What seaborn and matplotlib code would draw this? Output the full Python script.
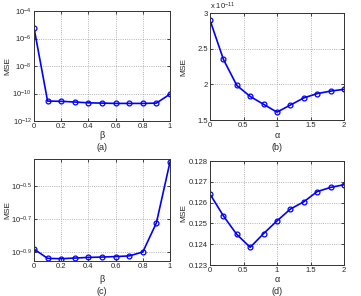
import numpy as np
import pandas as pd
import matplotlib
matplotlib.use('Agg')
import matplotlib.pyplot as plt
import seaborn as sns
from matplotlib.ticker import FixedLocator, NullLocator, FixedFormatter

sns.set_style('white')
plt.rcParams['font.family'] = ['Liberation Sans', 'DejaVu Sans']
plt.rcParams['mathtext.default'] = 'regular'

# panel (a): MSE vs beta (log)
beta = [0, 0.1, 0.2, 0.3, 0.4, 0.5, 0.6, 0.7, 0.8, 0.9, 1.0]
mse_a = [6e-6, 2.8e-11, 2.7e-11, 2.4e-11, 2.1e-11, 2.0e-11, 1.9e-11, 1.9e-11, 1.9e-11, 2.0e-11, 9e-11]
# panel (b): MSE vs alpha (x 1e-11)
alpha = [0, 0.2, 0.4, 0.6, 0.8, 1.0, 1.2, 1.4, 1.6, 1.8, 2.0]
mse_b = [2.90, 2.35, 1.985, 1.83, 1.72, 1.61, 1.71, 1.81, 1.87, 1.905, 1.93]
# panel (c): MSE vs beta (log exponent)
exp_c = [-0.884, -0.941, -0.943, -0.939, -0.935, -0.933, -0.930, -0.926, -0.902, -0.724, -0.352]
# panel (d): MSE vs alpha
mse_d = [0.12641, 0.12536, 0.12447, 0.12385, 0.12451, 0.12512, 0.12569, 0.12604, 0.12653, 0.12673, 0.12686]

W, H = 361, 296
fig = plt.figure(figsize=(W / 100, H / 100), dpi=100)

def box(l, t, r, b):
    return [l / W, 1 - b / H, (r - l) / W, (b - t) / H]

axa = fig.add_axes(box(34, 11, 170, 121))
axb = fig.add_axes(box(210, 13, 344, 120))
axc = fig.add_axes(box(34, 159, 170, 261))
axd = fig.add_axes(box(210, 161, 344, 265))

line_kw = dict(color='#0000ff', marker='o', markersize=3.5, markerfacecolor='none',
               markeredgecolor='#0000ff', markeredgewidth=0.9, linewidth=1.2)

sns.lineplot(x=beta, y=mse_a, ax=axa, **line_kw)
sns.lineplot(x=alpha, y=mse_b, ax=axb, **line_kw)
sns.lineplot(x=beta, y=[10 ** e for e in exp_c], ax=axc, **line_kw)
sns.lineplot(x=alpha, y=mse_d, ax=axd, **line_kw)

fs = 5.5
# (a)
axa.set_yscale('log')
axa.set_ylim(1e-12, 1e-4)
axa.set_xlim(0, 1)
axa.yaxis.set_major_locator(FixedLocator([1e-12, 1e-10, 1e-8, 1e-6, 1e-4]))
axa.yaxis.set_major_formatter(FixedFormatter(['$10^{-12}$', '$10^{-10}$', '$10^{-8}$', '$10^{-6}$', '$10^{-4}$']))
axa.yaxis.set_minor_locator(NullLocator())
axa.set_xticks([0, 0.2, 0.4, 0.6, 0.8, 1])
axa.set_xticklabels(['0', '0.2', '0.4', '0.6', '0.8', '1'])

# (b)
axb.set_ylim(1.5, 3)
axb.set_xlim(0, 2)
axb.set_yticks([1.5, 2, 2.5, 3])
axb.set_yticklabels(['1.5', '2', '2.5', '3'])
axb.set_xticks([0, 0.5, 1, 1.5, 2])
axb.set_xticklabels(['0', '0.5', '1', '1.5', '2'])
axb.text(0.0, 1.005, 'x 10$^{-11}$', transform=axb.transAxes, fontsize=fs, ha='left', va='bottom')

# (c)
axc.set_yscale('log')
axc.set_ylim(10 ** -0.957, 10 ** -0.334)
axc.set_xlim(0, 1)
axc.yaxis.set_major_locator(FixedLocator([10 ** -0.9, 10 ** -0.7, 10 ** -0.5]))
axc.yaxis.set_major_formatter(FixedFormatter(['$10^{-0.9}$', '$10^{-0.7}$', '$10^{-0.5}$']))
axc.yaxis.set_minor_locator(NullLocator())
axc.set_xticks([0, 0.2, 0.4, 0.6, 0.8, 1])
axc.set_xticklabels(['0', '0.2', '0.4', '0.6', '0.8', '1'])

# (d)
axd.set_ylim(0.123, 0.128)
axd.set_xlim(0, 2)
axd.set_yticks([0.123, 0.124, 0.125, 0.126, 0.127, 0.128])
axd.set_yticklabels(['0.123', '0.124', '0.125', '0.126', '0.127', '0.128'])
axd.set_xticks([0, 0.5, 1, 1.5, 2])
axd.set_xticklabels(['0', '0.5', '1', '1.5', '2'])

panels = [(axa, 'β', '(a)', 8, 135, 147), (axb, 'α', '(b)', 184, 135, 147),
          (axc, 'β', '(c)', 8, 279, 291), (axd, 'α', '(d)', 184, 279, 291)]
for ax, xl, tag, ylx, xly, tagy in panels:
    ax.grid(True, which='major', linestyle=':', color='#999999', linewidth=0.6)
    ax.tick_params(labelsize=fs, direction='in', length=2.5, width=0.6, pad=1.5,
                   top=True, right=True, bottom=True, left=True)
    for s in ax.spines.values():
        s.set_color('#333333')
        s.set_linewidth(0.7)
    ax.set_ylabel('MSE', fontsize=6)
    ax.set_xlabel(xl, fontsize=6.5)
    pos = ax.get_position()
    cx = (pos.x0 + pos.x1) / 2
    ax.yaxis.set_label_coords(ylx / W, (pos.y0 + pos.y1) / 2, transform=fig.transFigure)
    ax.yaxis.label.set_va('center')
    ax.xaxis.set_label_coords(cx, 1 - xly / H, transform=fig.transFigure)
    ax.xaxis.label.set_va('center')
    fig.text(cx, 1 - tagy / H, tag, fontsize=6.5, ha='center', va='center')

fig.savefig('out.png', dpi=100)
